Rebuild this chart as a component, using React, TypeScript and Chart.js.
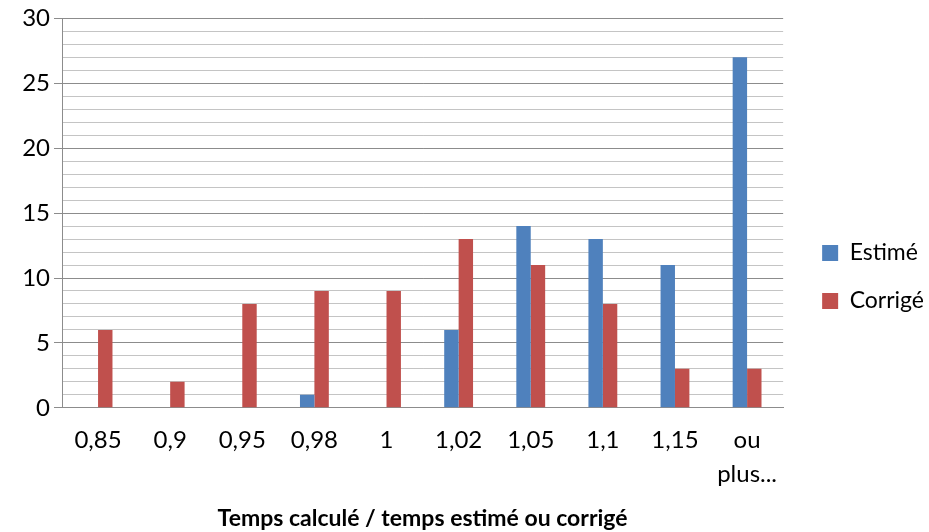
import React, { useEffect, useRef } from "react";
import { Chart, registerables } from "chart.js";

Chart.register(...registerables);

const categories: (string | string[])[] = ["0,85", "0,9", "0,95", "0,98", "1", "1,02", "1,05", "1,1", "1,15", ["ou", "plus..."]];
const estime = [0, 0, 0, 1, 0, 6, 14, 13, 11, 27];
const corrige = [6, 2, 8, 9, 9, 13, 11, 8, 3, 3];
const xTitle = "Temps calculé / temps estimé ou corrigé";
const FONT = "Lato, 'Open Sans', sans-serif";

const LEGEND_DX = 14;
const LEGEND_DY = 7;

const legendShift = {
  id: "legendShift",
  afterLayout(chart: any) {
    const l = chart.legend;
    if (l) {
      l.left += LEGEND_DX;
      l.right += LEGEND_DX;
      l.top += LEGEND_DY;
      l.bottom += LEGEND_DY;
    }
  },
};

export default function App() {
  const ref = useRef<HTMLCanvasElement | null>(null);
  useEffect(() => {
    if (!ref.current) return;
    const chart = new Chart(ref.current, {
      type: "bar",
      data: {
        labels: categories,
        datasets: [
          { label: "Estimé", data: estime, backgroundColor: "#4F81BD", borderWidth: 0, categoryPercentage: 0.4, barPercentage: 1 },
          { label: "Corrigé", data: corrige, backgroundColor: "#C0504D", borderWidth: 0, categoryPercentage: 0.4, barPercentage: 1 },
        ],
      },
      plugins: [legendShift],
      options: {
        animation: false,
        responsive: true,
        maintainAspectRatio: false,
        layout: { padding: { top: 10, left: 0, right: 9, bottom: 2 } },
        plugins: {
          tooltip: { enabled: false },
          legend: {
            position: "right",
            labels: {
              boxWidth: 16,
              boxHeight: 16,
              padding: 25,
              color: "#000",
              font: { family: FONT, size: 23 },
            },
          },
        },
        scales: {
          x: {
            grid: { display: false, drawTicks: false },
            border: { display: true, color: "#8C8C8C", width: 1 },
            ticks: { color: "#000", font: { family: FONT, size: 24, lineHeight: 1.4 }, padding: 16, maxRotation: 0, autoSkip: false },
            title: { display: true, text: xTitle, color: "#000", font: { family: FONT, size: 23, weight: "bold", lineHeight: 1.0 }, padding: { top: 0, bottom: 0 } },
          },
          y: {
            min: 0,
            max: 30,
            afterFit: (s: any) => { s.width = 62; },
            border: { display: true, color: "#8C8C8C", width: 1 },
            grid: {
              color: (c: any) => (c.tick && c.tick.value % 5 === 0 ? "#8C8C8C" : "#C4C4C4"),
              tickColor: (c: any) => (c.tick && c.tick.value % 5 === 0 ? "#8C8C8C" : "rgba(0,0,0,0)"),
              tickLength: 8,
              lineWidth: 1,
            },
            ticks: {
              stepSize: 1,
              autoSkip: false,
              padding: 4,
              color: "#000",
              font: { family: FONT, size: 24 },
              callback: (v: any) => (Number(v) % 5 === 0 ? String(v) : ""),
            },
          },
        },
      },
    });
    return () => chart.destroy();
  }, []);
  return (
    <div style={{ position: "fixed", left: 0, top: 0, width: 929, height: 532, background: "#fff" }}>
      <canvas ref={ref} />
    </div>
  );
}
